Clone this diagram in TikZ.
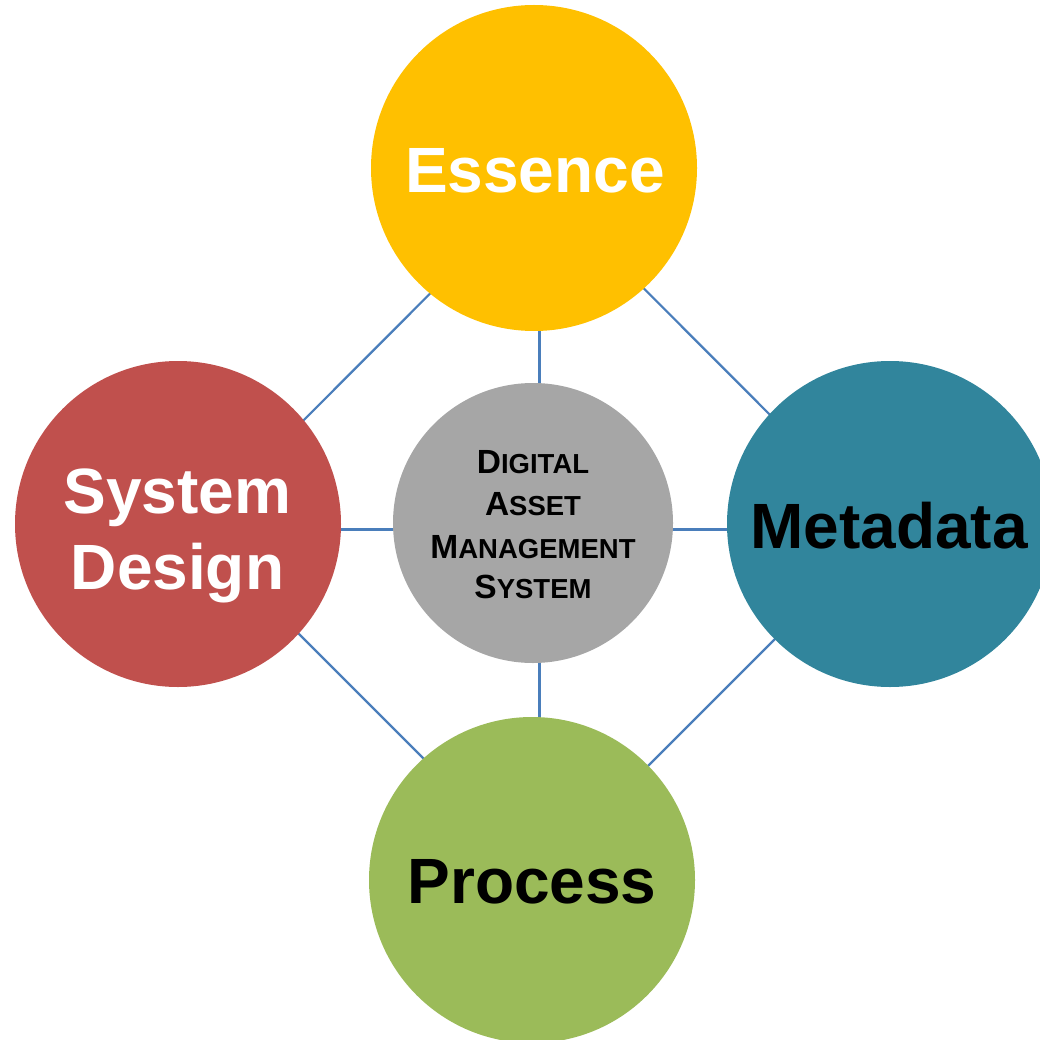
\documentclass[tikz,border=0pt]{standalone}
\usepackage{fontspec}
\setmainfont{Liberation Sans}
\definecolor{cEss}{HTML}{FFC000}
\definecolor{cSys}{HTML}{C0504D}
\definecolor{cMeta}{HTML}{31859C}
\definecolor{cProc}{HTML}{9BBB59}
\definecolor{cCen}{HTML}{A6A6A6}
\definecolor{cLine}{HTML}{4A7EBB}
\newcommand{\bigsc}[2]{{\fontsize{33.5}{40}\selectfont #1}{\fontsize{27.5}{40}\selectfont #2}}
\tikzset{
  outer/.style={circle, minimum size=326pt, inner sep=0pt, draw=none},
  inner/.style={circle, minimum size=280pt, inner sep=0pt, draw=none, fill=cCen},
  link/.style={draw=cLine, line width=2.2pt},
  bigtxt/.style={anchor=base, inner sep=0pt, font=\fontsize{64}{76}\selectfont\bfseries},
  smalltxt/.style={anchor=base, inner sep=0pt, font=\bfseries}
}
\begin{document}
\begin{tikzpicture}[x=1pt,y=-1pt]
\useasboundingbox (0,0) rectangle (1039,1040);
% connector hubs
\coordinate (hT) at (539.5,184);
\coordinate (hL) at (194.5,529.5);
\coordinate (hR) at (884.5,529.5);
\coordinate (hB) at (539.5,874.5);
\coordinate (hC) at (539.5,529.5);
\draw[link] (hT) -- (hL) -- (hB) -- (hR) -- cycle;
\draw[link] (hT) -- (hC) -- (hB);
\draw[link] (hL) -- (hC) -- (hR);
% circles
\node[outer, fill=cEss] (ess) at (534,168) {};
\node[outer, fill=cSys] (sys) at (178,524) {};
\node[outer, fill=cMeta] (meta) at (890,524) {};
\node[outer, fill=cProc] (proc) at (532,880) {};
\node[inner] (cen) at (533,523) {};
% labels
\node[bigtxt, text=white] (essT) at (535,193) {Essence};
\node[bigtxt, text=white] (sysT1) at (177.5,513) {System};
\node[bigtxt, text=white] (sysT2) at (177.5,589) {Design};
\node[bigtxt, text=black] (metaT) at (889,548) {Metadata};
\node[bigtxt, text=black] (procT) at (532,903) {Process};
\node[smalltxt] (cen1) at (533,473) {\bigsc{D}{IGITAL}};
\node[smalltxt] (cen2) at (533,515) {\bigsc{A}{SSET}};
\node[smalltxt] (cen3) at (533,558) {\bigsc{M}{ANAGEMENT}};
\node[smalltxt] (cen4) at (533,598) {\bigsc{S}{YSTEM}};
\end{tikzpicture}
\end{document}
